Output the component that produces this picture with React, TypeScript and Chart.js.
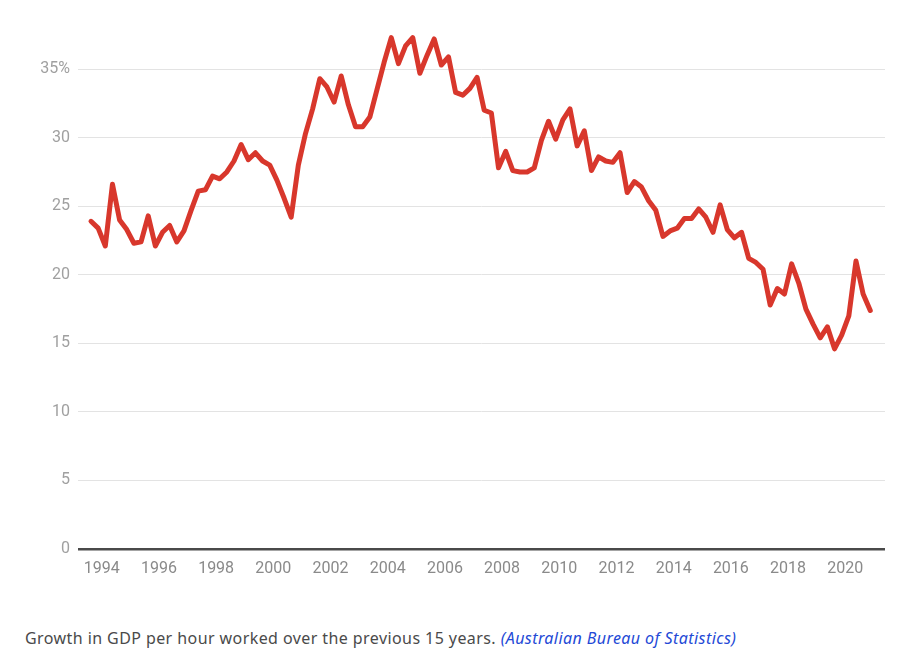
import React, { useEffect, useRef } from "react";
import { Chart, registerables } from "chart.js";

Chart.register(...registerables);

// First point: September quarter 1993; quarterly observations through December quarter 2020
const firstYear = 1993;
const firstQuarter = 3;

const growthValues: number[] = [
  23.9, 23.4, 22.1, 26.6, 24.0, 23.3, 22.3, 22.4, 24.3, 22.1,
  23.1, 23.6, 22.4, 23.2, 24.7, 26.1, 26.2, 27.2, 27.0, 27.5,
  28.3, 29.5, 28.4, 28.9, 28.3, 28.0, 26.9, 25.6, 24.2, 28.0,
  30.3, 32.1, 34.3, 33.7, 32.6, 34.5, 32.4, 30.8, 30.8, 31.5,
  33.5, 35.5, 37.3, 35.4, 36.7, 37.3, 34.7, 36.0, 37.2, 35.3,
  35.9, 33.3, 33.1, 33.6, 34.4, 32.0, 31.8, 27.8, 29.0, 27.6,
  27.5, 27.5, 27.8, 29.8, 31.2, 29.9, 31.3, 32.1, 29.4, 30.5,
  27.6, 28.6, 28.3, 28.2, 28.9, 26.0, 26.8, 26.4, 25.4, 24.7,
  22.8, 23.2, 23.4, 24.1, 24.1, 24.8, 24.2, 23.1, 25.1, 23.3,
  22.7, 23.1, 21.2, 20.9, 20.4, 17.8, 19.0, 18.6, 20.8, 19.4,
  17.5, 16.4, 15.4, 16.2, 14.6, 15.6, 17.0, 21.0, 18.6, 17.4,
];

const xTickYears: number[] = [
  1994, 1996, 1998, 2000, 2002, 2004, 2006, 2008, 2010, 2012, 2014, 2016, 2018, 2020,
];
const yTickValues: number[] = [0, 5, 10, 15, 20, 25, 30, 35];

// quarter categories (year, quarter) mapped to mid-quarter decimal years
const quarterCategories = growthValues.map((_, i) => {
  const q0 = firstQuarter - 1 + i;
  return { year: firstYear + Math.floor(q0 / 4), quarter: (q0 % 4) + 1 };
});
const quarterPositions = quarterCategories.map((c) => c.year + (c.quarter - 1) * 0.25 + 0.125);

export default function App() {
  const canvasRef = useRef<HTMLCanvasElement | null>(null);

  useEffect(() => {
    if (!canvasRef.current) return;
    const chart = new Chart(canvasRef.current, {
      type: "line",
      data: {
        datasets: [
          {
            data: growthValues.map((v, i) => ({ x: quarterPositions[i], y: v })),
            borderColor: "#d8372c",
            borderWidth: 5,
            pointRadius: 0,
            tension: 0,
            borderJoinStyle: "round",
            borderCapStyle: "round",
            fill: false,
          },
        ],
      },
      options: {
        animation: false,
        responsive: true,
        maintainAspectRatio: false,
        layout: { padding: { top: 20, right: 11, left: 0, bottom: 0 } },
        plugins: { legend: { display: false }, tooltip: { enabled: false } },
        scales: {
          x: {
            type: "linear",
            min: 1993.17,
            max: 2021.39,
            afterBuildTicks: (scale: any) => {
              scale.ticks = xTickYears.map((v) => ({ value: v }));
            },
            afterFit: (scale: any) => {
              scale.height = 40;
            },
            grid: { display: false, drawTicks: false },
            border: { display: false },
            ticks: {
              padding: 10,
              color: "#8a8a8a",
              font: { family: "Roboto", size: 16 },
              maxRotation: 0,
              autoSkip: false,
              callback: (v: any) => String(v),
            },
          },
          y: {
            min: 0,
            max: 38,
            afterBuildTicks: (scale: any) => {
              scale.ticks = yTickValues.map((v) => ({ value: v }));
            },
            afterFit: (scale: any) => {
              scale.width = 70;
            },
            border: { display: false },
            grid: {
              drawTicks: false,
              color: (ctx: any) => (ctx.tick && ctx.tick.value === 0 ? "#4a4a4a" : "#e3e3e3"),
              lineWidth: (ctx: any) => (ctx.tick && ctx.tick.value === 0 ? 2.5 : 1),
            },
            ticks: {
              padding: 8,
              color: "#a0a0a0",
              font: { family: "Roboto", size: 16 },
              callback: (v: any) => (v === 35 ? "35%" : String(v)),
            },
          },
        },
      },
    });
    return () => chart.destroy();
  }, []);

  return (
    <div style={{ width: 888 }}>
      <div style={{ position: "relative", width: 888, height: 581 }}>
        <canvas ref={canvasRef} />
      </div>
      <div
        style={{
          marginTop: 39,
          paddingLeft: 17,
          fontFamily: "'Noto Sans', sans-serif",
          fontSize: 16,
          lineHeight: "20px",
          color: "#4a4a4a",
          letterSpacing: 0.42,
          whiteSpace: "nowrap",
        }}
      >
        Growth in GDP per hour worked over the previous 15 years.{" "}
        <span style={{ fontStyle: "italic", color: "#2349d6" }}>(Australian Bureau of Statistics)</span>
      </div>
    </div>
  );
}
